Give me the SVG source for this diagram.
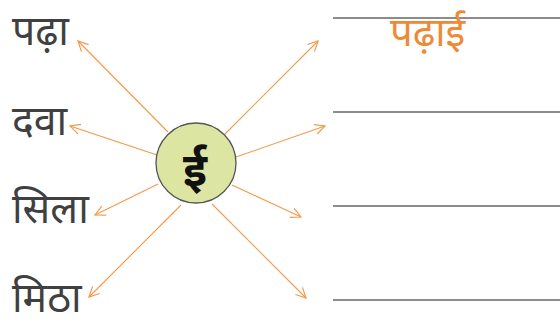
<svg xmlns="http://www.w3.org/2000/svg" width="560" height="323" viewBox="0 0 560 323">
<style>
.w{font-family:"Noto Sans","Noto Sans Devanagari","DejaVu Sans",sans-serif;font-size:41px;fill:#404040}
.a{stroke:#F4994A;stroke-width:1.1;fill:none;marker-end:url(#ah)}
.l{stroke:#8c8c8c;stroke-width:2.2}
</style>
<defs>
<marker id="ah" viewBox="0 0 12 12" refX="11" refY="6" markerWidth="12" markerHeight="12" markerUnits="userSpaceOnUse" orient="auto">
<path d="M1,1 L11,6 L1,11" fill="none" stroke="#F4994A" stroke-width="1.2"/>
</marker>
</defs>
<rect width="560" height="323" fill="#fff"/>
<g id="lines">
<line class="l" x1="333" y1="18" x2="560" y2="18"/>
<line class="l" x1="333" y1="112" x2="560" y2="112"/>
<line class="l" x1="333" y1="206" x2="560" y2="206"/>
<line class="l" x1="333" y1="300" x2="560" y2="300"/>
</g>
<g id="connectors">
<line class="a" x1="168" y1="132" x2="78" y2="41"/>
<line class="a" x1="157" y1="155" x2="70" y2="126"/>
<line class="a" x1="158" y1="184" x2="95" y2="215"/>
<line class="a" x1="181" y1="205" x2="89" y2="297"/>
<line class="a" x1="224" y1="135" x2="318" y2="41"/>
<line class="a" x1="236" y1="157" x2="325" y2="126"/>
<line class="a" x1="232" y1="185" x2="301" y2="217"/>
<line class="a" x1="212" y1="204" x2="306" y2="298"/>
</g>
<g id="center">
<circle cx="196" cy="163" r="40" fill="#DDE5A3" stroke="#555" stroke-width="1.3"/>
<text x="195" y="186" text-anchor="middle" style="font-family:'Noto Sans','Noto Sans Devanagari',sans-serif;font-size:46px;font-weight:bold;fill:#111">ई</text>
</g>
<g id="w1"><text class="w" x="12" y="45">पढ़ा</text></g>
<g id="w2"><text class="w" x="12" y="135">दवा</text></g>
<g id="w3"><text class="w" x="12" y="223">सिला</text></g>
<g id="w4"><text class="w" x="12" y="312">मिठा</text></g>
<g id="ans"><text x="390" y="46" style="font-family:'Noto Sans','Noto Sans Devanagari',sans-serif;font-size:40px;fill:#EE8A35">पढ़ाई</text></g>
</svg>
